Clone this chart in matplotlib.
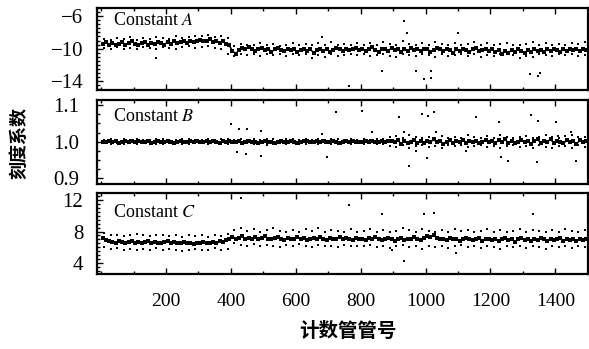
import numpy as np
import matplotlib
matplotlib.use("Agg")
import matplotlib.pyplot as plt
from matplotlib.ticker import MultipleLocator, FixedLocator

plt.rcParams['font.family'] = ['Liberation Serif', 'DejaVu Serif']
plt.rcParams['mathtext.fontset'] = 'stix'

# ------------------------------------------------------------
# data (tube number vs. calibration constant)
# ------------------------------------------------------------
tube_main = np.arange(5, 1500, 10)     # 150 tubes, main band
tube_side = np.arange(10, 1500, 20)    # 75 tubes, upper / lower scatter

A_main = [
    -9.4, -9.2, -9.5, -9.3, -9.6, -9.4, -9.2, -9.5, -9.3, -9.1,
    -9.4, -9.6, -9.3, -9.2, -9.5, -9.3, -9.4, -9.2, -9.3, -9.5,
    -9.2, -9.4, -9.1, -9.3, -9.2, -9.0, -9.3, -9.1, -9.2, -9.0,
    -8.9, -9.1, -9.0, -8.8, -9.2, -9.0, -9.3, -9.1, -9.4, -9.6,
    -10.3, -10.6, -10.2, -9.9, -10.1, -9.8, -10.0, -10.3, -10.1, -9.9,
    -10.2, -10.0, -10.4, -10.1, -9.9, -10.2, -10.3, -10.0, -10.2, -10.1,
    -10.4, -10.2, -10.0, -10.3, -10.1, -10.5, -10.2, -10.0, -10.3, -10.1,
    -10.4, -10.2, -9.9, -10.1, -10.3, -10.0, -10.2, -10.1, -9.9, -10.2,
    -10.0, -10.3, -10.1, -9.8, -10.2, -10.4, -10.0, -10.1, -10.3, -9.9,
    -10.2, -10.0, -10.4, -10.1, -10.3, -9.9, -10.2, -10.0, -10.3, -10.1,
    -10.0, -10.4, -10.2, -9.9, -10.1, -10.3, -10.0, -10.2, -10.5, -10.1,
    -10.3, -10.0, -10.2, -10.4, -10.1, -9.9, -10.3, -10.2, -10.0, -10.3,
    -10.1, -10.4, -10.2, -10.6, -10.3, -10.5, -10.2, -10.4, -10.1, -10.3,
    -10.5, -10.2, -10.4, -10.0, -10.3, -10.2, -10.4, -10.1, -10.3, -10.0,
    -10.2, -10.4, -10.1, -10.3, -10.0, -10.2, -10.1, -10.3, -10.0, -10.2]
A_upper = [
    -8.8, -8.9, -8.7, -8.8, -8.6, -8.9, -8.7, -8.8, -8.6, -8.7,
    -8.8, -8.5, -8.7, -8.6, -8.4, -8.5, -8.3, -8.6, -8.4, -8.7,
    -9.7, -9.4, -9.6, -9.5, -9.3, -9.6, -9.4, -9.7, -9.5, -9.3,
    -9.6, -9.4, -9.5, -9.3, -9.6, -9.2, -9.5, -9.4, -9.6, -9.3,
    -9.5, -9.3, -9.6, -9.2, -9.4, -9.5, -9.1, -9.4, -9.6, -9.3,
    -9.5, -9.2, -9.4, -9.6, -9.3, -9.5, -9.4, -9.2, -9.5, -9.3,
    -9.6, -9.4, -9.3, -9.5, -9.6, -9.4, -9.2, -9.5, -9.3, -9.6,
    -9.4, -9.5, -9.3, -9.4, -9.2]
A_lower = [
    -9.9, -10.0, -9.8, -10.1, -9.9, -10.0, -9.8, -9.9, -10.1, -9.8,
    -9.9, -10.0, -9.8, -9.7, -9.9, -9.8, -9.7, -9.9, -10.1, -10.7,
    -10.9, -10.7, -10.8, -10.6, -10.9, -10.7, -10.8, -10.6, -10.9, -10.7,
    -10.8, -10.6, -11.1, -10.8, -11.0, -10.7, -10.9, -10.8, -10.6, -10.8,
    -10.7, -10.9, -10.8, -10.6, -10.9, -11.0, -10.7, -10.8, -10.9, -10.6,
    -10.8, -11.0, -10.7, -10.9, -10.8, -10.6, -10.9, -10.7, -11.0, -10.8,
    -10.9, -10.7, -10.6, -10.8, -11.2, -10.9, -11.0, -10.7, -10.8, -10.9,
    -10.6, -10.8, -10.7, -10.9, -10.8]
A_out_x = [170, 680, 763, 865, 932, 942, 969, 994, 1018, 1018, 1100, 1323, 1347, 1354]
A_out_y = [-11.2, -8.6, -14.6, -12.8, -6.6, -8.1, -12.8, -13.7, -13.6, -12.8, -8.1, -13.1, -13.4, -13.0]

B_main = [
    1.000, 0.998, 1.002, 0.999, 1.001, 0.997, 1.000, 1.003, 0.998, 1.001,
    0.999, 1.002, 1.000, 0.998, 1.001, 0.997, 0.999, 1.002, 1.000, 0.998,
    1.001, 0.999, 0.997, 1.000, 1.002, 0.998, 1.000, 1.001, 0.999, 1.003,
    1.000, 0.998, 1.001, 0.999, 1.002, 1.000, 0.997, 1.001, 0.999, 1.002,
    1.000, 0.998, 1.001, 0.997, 0.999, 1.002, 1.000, 0.998, 0.996, 1.000,
    1.001, 0.998, 1.000, 0.997, 0.999, 1.001, 0.998, 1.000, 1.002, 0.999,
    0.997, 1.000, 1.003, 1.001, 0.998, 1.000, 1.002, 0.999, 1.001, 0.998,
    1.000, 1.002, 0.999, 0.997, 1.000, 1.001, 0.999, 1.002, 1.000, 0.998,
    1.000, 1.002, 0.999, 1.001, 0.998, 1.000, 1.002, 0.999, 1.003, 1.001,
    0.998, 1.005, 0.993, 1.002, 0.996, 1.000, 1.004, 0.997, 1.001, 0.995,
    1.003, 0.999, 1.006, 0.998, 1.002, 0.994, 1.000, 1.004, 0.997, 1.002,
    0.999, 1.005, 0.996, 1.001, 0.998, 1.003, 0.995, 1.000, 1.004, 0.998,
    1.001, 0.996, 1.004, 0.999, 1.006, 0.997, 1.002, 0.995, 1.000, 1.005,
    0.998, 1.003, 0.994, 1.001, 1.006, 0.997, 1.002, 0.999, 1.007, 0.996,
    1.003, 1.000, 0.995, 1.005, 0.998, 1.002, 0.993, 1.004, 0.999, 1.001]
B_upper = [
    1.005, 1.006, 1.004, 1.007, 1.005, 1.006, 1.004, 1.005, 1.007, 1.006,
    1.004, 1.005, 1.006, 1.008, 1.005, 1.004, 1.006, 1.005, 1.007, 1.006,
    1.005, 1.007, 1.004, 1.006, 1.005, 1.008, 1.006, 1.004, 1.006, 1.007,
    1.005, 1.006, 1.004, 1.007, 1.005, 1.006, 1.008, 1.005, 1.006, 1.004,
    1.006, 1.005, 1.008, 1.007, 1.012, 1.015, 1.010, 1.018, 1.012, 1.009,
    1.014, 1.011, 1.016, 1.010, 1.013, 1.009, 1.017, 1.012, 1.010, 1.015,
    1.011, 1.018, 1.013, 1.009, 1.014, 1.016, 1.011, 1.013, 1.019, 1.012,
    1.010, 1.015, 1.017, 1.012, 1.014]
B_lower = [
    0.995, 0.994, 0.996, 0.993, 0.995, 0.994, 0.996, 0.995, 0.993, 0.994,
    0.996, 0.995, 0.994, 0.993, 0.995, 0.996, 0.994, 0.995, 0.993, 0.994,
    0.995, 0.993, 0.996, 0.994, 0.995, 0.992, 0.994, 0.996, 0.993, 0.995,
    0.994, 0.993, 0.996, 0.994, 0.995, 0.993, 0.994, 0.995, 0.993, 0.996,
    0.994, 0.995, 0.993, 0.994, 0.988, 0.985, 0.990, 0.983, 0.987, 0.991,
    0.986, 0.989, 0.984, 0.990, 0.987, 0.992, 0.985, 0.988, 0.990, 0.986,
    0.989, 0.983, 0.987, 0.991, 0.985, 0.988, 0.984, 0.990, 0.986, 0.982,
    0.989, 0.987, 0.984, 0.990, 0.986]
B_out_x = [400, 418, 425, 446, 449, 492, 492, 680, 695, 723,
           803, 834, 917, 932, 948, 969, 988, 1003, 1009, 1025,
           1031, 1126, 1154, 1225, 1231, 1255, 1326, 1342, 1348, 1403,
           1409, 1449, 1465]
B_out_y = [1.049, 0.973, 1.036, 0.967, 1.036, 1.030, 0.962, 1.022, 0.959, 1.082,
           1.085, 1.027, 1.068, 1.027, 0.932, 0.975, 1.077, 0.956, 1.071, 1.082,
           1.027, 0.975, 1.068, 1.055, 0.959, 0.948, 1.074, 0.945, 1.058, 1.055,
           1.016, 1.027, 0.948]

C_main = [
    7.2, 6.9, 6.8, 6.7, 6.6, 6.8, 6.7, 6.6, 6.7, 6.8,
    6.6, 6.7, 6.5, 6.7, 6.8, 6.6, 6.7, 6.5, 6.6, 6.7,
    6.8, 6.6, 6.7, 6.5, 6.6, 6.7, 6.5, 6.6, 6.4, 6.6,
    6.5, 6.7, 6.6, 6.5, 6.7, 6.6, 6.8, 6.7, 6.9, 7.0,
    7.3, 7.1, 7.2, 7.4, 7.0, 7.2, 7.1, 7.3, 7.0, 7.2,
    7.4, 7.1, 7.0, 7.2, 7.3, 7.1, 6.9, 7.2, 7.0, 7.1,
    7.3, 7.0, 7.2, 6.9, 7.1, 7.2, 7.0, 7.3, 7.1, 6.9,
    7.2, 7.0, 7.1, 7.3, 7.0, 7.2, 7.1, 6.9, 7.2, 7.0,
    7.1, 6.9, 7.2, 7.0, 7.3, 7.1, 6.9, 7.0, 7.2, 7.1,
    6.8, 7.0, 7.2, 6.9, 7.1, 7.0, 7.3, 7.1, 6.9, 7.2,
    7.4, 7.3, 7.5, 7.2, 7.0, 7.1, 6.9, 7.2, 7.0, 7.1,
    6.8, 7.0, 7.2, 7.1, 6.9, 7.0, 7.2, 6.8, 7.1, 7.0,
    6.9, 7.1, 6.8, 7.0, 7.2, 6.9, 7.1, 6.7, 7.0, 7.2,
    6.9, 7.1, 6.8, 7.0, 6.9, 7.2, 7.0, 6.8, 7.1, 6.9,
    7.0, 7.2, 6.8, 7.0, 6.9, 7.1, 6.8, 7.0, 6.9, 7.1]
C_upper = [
    7.8, 7.5, 7.6, 7.4, 7.5, 7.7, 7.6, 7.4, 7.5, 7.6,
    7.4, 7.5, 7.3, 7.5, 7.4, 7.6, 7.3, 7.5, 7.4, 7.7,
    8.2, 8.4, 8.1, 8.3, 8.0, 8.2, 8.4, 8.1, 7.9, 8.2,
    8.0, 8.3, 8.1, 8.5, 8.0, 8.2, 8.1, 7.9, 8.3, 8.0,
    8.1, 8.3, 8.0, 8.2, 7.9, 8.1, 8.4, 8.2, 8.0, 8.3,
    8.1, 7.9, 8.2, 8.0, 8.3, 8.1, 8.2, 7.9, 8.1, 8.3,
    8.0, 8.2, 7.9, 8.1, 8.3, 8.0, 8.2, 8.1, 7.9, 8.2,
    8.0, 8.3, 8.1, 7.9, 8.2]
C_lower = [
    6.0, 5.8, 5.9, 5.7, 5.8, 5.6, 5.8, 5.7, 5.9, 5.6,
    5.8, 5.7, 5.5, 5.7, 5.8, 5.6, 5.7, 5.9, 5.6, 5.8,
    6.5, 6.3, 6.2, 6.4, 6.1, 6.3, 6.2, 6.0, 6.3, 6.1,
    6.4, 6.2, 6.0, 6.3, 6.1, 6.2, 6.0, 6.3, 6.1, 6.2,
    6.1, 6.3, 6.0, 6.2, 5.9, 6.1, 6.3, 6.0, 6.2, 5.8,
    6.1, 6.0, 6.2, 5.9, 6.1, 6.3, 6.0, 6.2, 5.9, 6.1,
    6.0, 5.8, 6.2, 6.0, 6.1, 5.9, 6.2, 6.0, 5.8, 6.1,
    6.0, 6.2, 5.9, 6.1, 6.0]
C_out_x = [431, 763, 865, 895, 932, 994, 1025, 1095, 1332]
C_out_y = [12.3, 11.4, 10.2, 5.6, 4.3, 10.2, 10.3, 5.3, 10.2]

panels = [
    ("Constant $A$", A_main, A_upper, A_lower, A_out_x, A_out_y,
     (-15.1, -5.0), [-6, -10, -14], ["\u22126", "\u221210", "\u221214"], 0.5, 0.854, 10),
    ("Constant $B$", B_main, B_upper, B_lower, B_out_x, B_out_y,
     (0.884, 1.114), [0.9, 1.0, 1.1], ["0.9", "1.0", "1.1"], 0.025, 0.80, 13),
    ("Constant $C$", C_main, C_upper, C_lower, C_out_x, C_out_y,
     (2.6, 12.9), [4, 8, 12], ["4", "8", "12"], 0.5, 0.765, 10),
]

# axes rectangles in figure fraction [left, bottom, width, height]
rects = [
    [0.165, 0.742, 0.833, 0.235],
    [0.165, 0.473, 0.833, 0.240],
    [0.165, 0.215, 0.833, 0.232],
]

fig = plt.figure(figsize=(5.89, 3.49), dpi=100)

for i, (title, ym, yu, yl, ox, oy, ylim, yt, ytl, yminor, ty, ypad) in enumerate(panels):
    ax = fig.add_axes(rects[i])
    # dense main band: points joined by a thin jagged trace
    ax.plot(tube_main, ym, color="black", lw=1.1)
    ax.scatter(tube_main, ym, s=12, c="black", marker="s", linewidths=0)
    ax.scatter(tube_side, yu, s=4, c="black", marker="s", linewidths=0)
    ax.scatter(tube_side, yl, s=4, c="black", marker="s", linewidths=0)
    ax.scatter(ox, oy, s=4, c="black", marker="s", linewidths=0)

    ax.set_xlim(-12, 1500)
    ax.set_ylim(*ylim)
    ax.yaxis.set_major_locator(FixedLocator(yt))
    ax.set_yticklabels(ytl)
    ax.yaxis.set_minor_locator(MultipleLocator(yminor))
    ax.xaxis.set_major_locator(FixedLocator([200, 400, 600, 800, 1000, 1200, 1400]))
    ax.xaxis.set_minor_locator(MultipleLocator(100))
    ax.tick_params(axis="both", which="both", direction="in", top=True,
                   right=False, width=1.0)
    ax.tick_params(axis="both", which="major", length=4)
    ax.tick_params(axis="both", which="minor", length=2.5)
    ax.tick_params(axis="y", pad=ypad, labelsize=15)
    if i < 2:
        ax.tick_params(axis="x", labelbottom=False)
    else:
        ax.tick_params(axis="x", pad=14, labelsize=14)
    for sp in ax.spines.values():
        sp.set_linewidth(1.6)
    ax.text(0.033, ty, title, transform=ax.transAxes, fontsize=13,
            ha="left", va="center")

fig.text(0.031, 0.59, "刻度系数", rotation=90, ha="center", va="center",
         fontsize=13, fontweight="bold", family=["Noto Sans CJK SC", "DejaVu Sans"])
fig.text(0.59, 0.049, "计数管管号", ha="center", va="center",
         fontsize=14, fontweight="bold", family=["Noto Sans CJK SC", "DejaVu Sans"])

fig.savefig("out.png", dpi=100)
